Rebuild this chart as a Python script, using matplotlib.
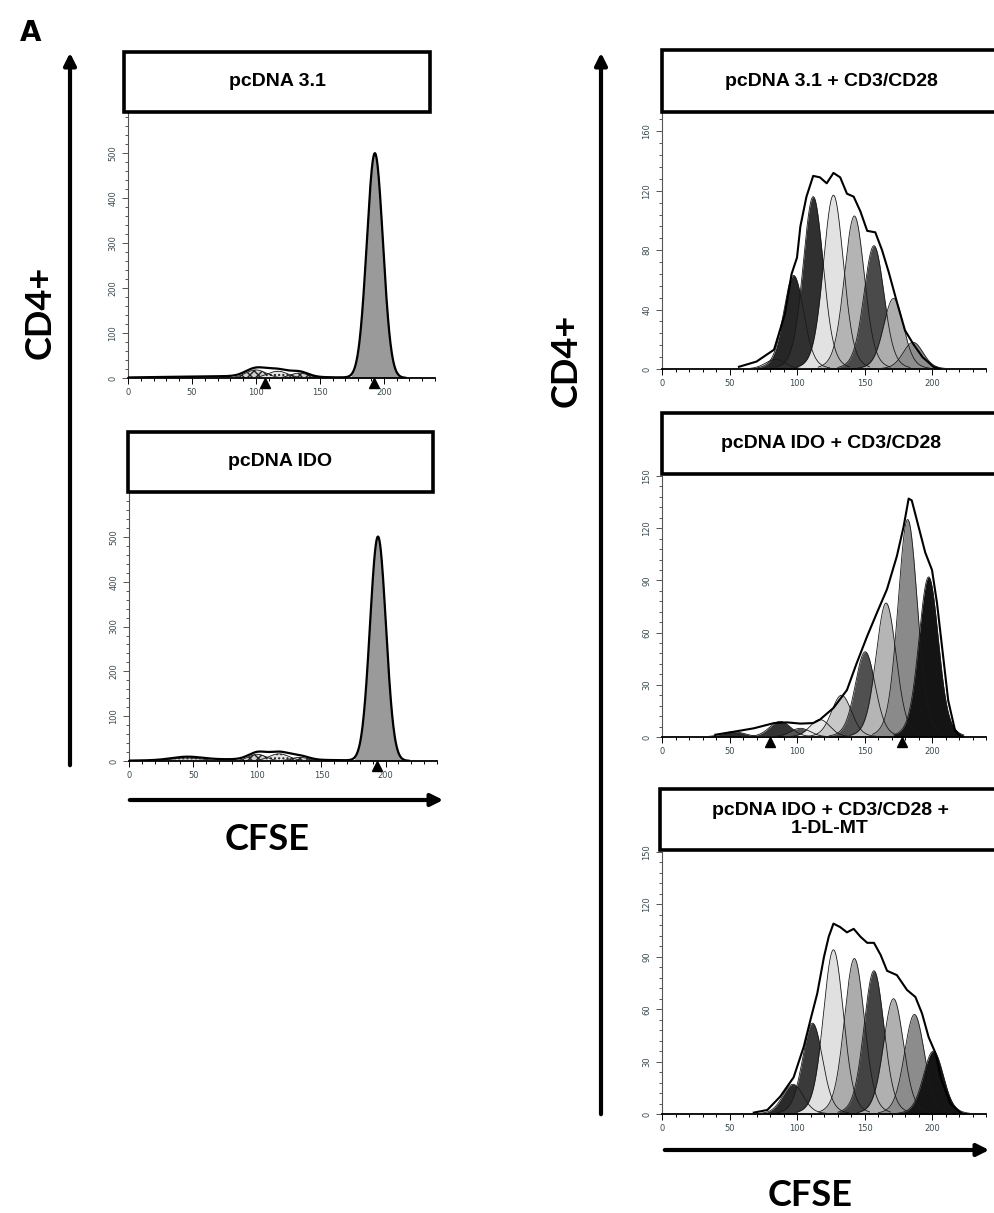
import numpy as np
import matplotlib.pyplot as plt
from matplotlib.patches import Rectangle, FancyArrowPatch
from matplotlib.ticker import MultipleLocator
import matplotlib.transforms as mtransforms

W, H = 994, 1213

titles = ["pcDNA 3.1", "pcDNA IDO", "pcDNA 3.1 + CD3/CD28",
          "pcDNA IDO + CD3/CD28", "pcDNA IDO + CD3/CD28 +\n1-DL-MT"]

# generation peaks: centre (CFSE), height (count), sigma
p1_centers = [100, 117, 134, 193]
p1_heights = [18, 15, 11, 500]
p1_sigmas = [8, 8, 7, 6.3]
p1_debris = [85, 4, 55]          # broad background: centre, height, sigma
p1_marks = [107, 192]

p2_centers = [45, 100, 117, 133, 194]
p2_heights = [7, 15, 16, 8, 500]
p2_sigmas = [12, 7, 8, 7, 6.2]
p2_debris = [95, 4, 55]
p2_marks = [193]

p3_centers = [84, 97.5, 112, 127, 142.5, 157, 171.5, 186]
p3_heights = [6.5, 63, 116, 117, 103, 83, 47.5, 18]
p3_sigmas = [7] * 8
p3_marks = []

p4_centers = [53, 87.5, 102.5, 117, 133, 150.5, 166, 182, 197.5]
p4_heights = [3, 9, 5, 10, 24, 49, 77, 125, 92]
p4_sigmas = [8, 7.5, 7, 7, 7, 7, 7, 6.8, 6.8]
p4_marks = [80, 178]

p5_centers = [97, 111.5, 127, 142.5, 157, 171.5, 187, 201]
p5_heights = [17, 52, 94, 89, 82, 66, 57, 36]
p5_sigmas = [7.2, 7, 7, 7, 7, 7, 7, 7]
p5_marks = []

# fitted envelopes of the stimulated samples
p3_env_x = [57, 70, 83, 91, 96, 100, 102.5, 107, 112, 117, 122, 127, 132, 137,
            142, 147, 152, 158, 163, 168, 174, 180, 186, 193, 201, 206]
p3_env_y = [1.5, 5, 13, 37, 64, 75, 96, 116, 130, 129, 125, 132, 129, 118,
            116, 106, 93, 92, 80, 65, 45, 26, 17, 8, 1.5, 0]
p4_env_x = [39.5, 53, 68, 78, 83, 92.6, 102.5, 112, 117, 127, 137, 144, 152,
            159, 166.7, 174, 179, 182.7, 185, 190, 195, 200, 203.7, 208.6, 212,
            217, 221]
p4_env_y = [1.3, 3, 5, 7, 8, 8.4, 7.7, 8, 10, 16.7, 27, 42, 58, 71, 85, 104,
            121, 137, 136, 121, 106, 96, 77, 44, 21, 4, 0.4]
p5_env_x = [68, 78, 87.6, 97.5, 105, 110, 115, 120, 123.5, 127, 132, 137, 142,
            147, 152, 157, 162, 166.7, 174, 181.5, 187.7, 192.6, 197.5, 202.5,
            207, 213.6, 221]
p5_env_y = [0.8, 2.3, 10, 21, 38.5, 54, 69, 90, 101.5, 109, 107, 104, 106,
            101.5, 98, 98, 91, 82, 79.5, 71, 67, 57.6, 44, 35, 19.5, 6, 0.8]

# fill styles per peak
p1_fills = ["#cfcfcf", "#e6e6e6", "#cfcfcf", "#9a9a9a"]
p1_hatch = ["xxxx", "....", "xxxx", None]
p2_fills = ["#cfcfcf", "#cfcfcf", "#e6e6e6", "#cfcfcf", "#9a9a9a"]
p2_hatch = ["....", "xxxx", "....", "xxxx", None]
p3_fills = ["#b8b8b8", "#262626", "#303030", "#e2e2e2", "#b4b4b4", "#4a4a4a", "#adadad", "#8e8e8e"]
p4_fills = ["#2a2a2a", "#333333", "#555555", "#e8e8e8", "#c8c8c8", "#505050", "#b5b5b5", "#8a8a8a", "#141414"]
p5_fills = ["#2a2a2a", "#3a3a3a", "#e0e0e0", "#acacac", "#434343", "#b0b0b0", "#8c8c8c", "#151515"]

fig = plt.figure(figsize=(W / 100, H / 100), dpi=100)
fig.patch.set_facecolor("white")


def px_axes(left, top, right, bottom):
    return fig.add_axes([left / W, 1 - bottom / H, (right - left) / W, (bottom - top) / H])


def peak(x, c, h, s, tail=0.0):
    # gaussian core, optionally with a wider skirt (modelled generations)
    core = np.exp(-((x - c) ** 2) / (2 * s ** 2))
    skirt = np.exp(-((x - c) ** 2) / (2 * (1.7 * s) ** 2))
    return h * ((1 - tail) * core + tail * skirt)


def draw_panel(ax, centers, heights, sigmas, fills, hatches, debris, marks,
               ymax, ymajor, yminor, env_x=None, env_y=None, tail=0.0):
    x = np.linspace(0, 240, 961)
    total = np.zeros_like(x)
    if debris is not None:
        total += peak(x, *debris)
    curves = []
    for i, (c, h, s) in enumerate(zip(centers, heights, sigmas)):
        y = peak(x, c, h, s, tail)
        total += y
        m = y > 0.012 * h
        curves.append((x[m], y[m]))
        hatch = hatches[i] if hatches else None
        ax.fill_between(x[m], 0, y[m], facecolor=fills[i], edgecolor="#222222",
                        lw=0, hatch=hatch, zorder=2 + i * 0.01)
    for cx, cy in curves:
        ax.plot(cx, cy, color="#1a1a1a", lw=0.6, zorder=3)
    if env_x is None:
        m = total > 0.6
        ax.plot(x[m], total[m], color="black", lw=1.6, zorder=5)
    else:
        ax.plot(env_x, env_y, color="black", lw=1.5, zorder=5)
    tr = mtransforms.offset_copy(ax.transData, fig=fig, y=-5, units="dots")
    for mk in marks:
        ax.plot([mk], [0], marker="^", color="black", ms=6.5, transform=tr,
                clip_on=False, zorder=6)
    ax.set_xlim(0, 240)
    ax.set_ylim(0, ymax)
    ax.xaxis.set_major_locator(MultipleLocator(50))
    ax.xaxis.set_minor_locator(MultipleLocator(10))
    ax.yaxis.set_major_locator(MultipleLocator(ymajor))
    ax.yaxis.set_minor_locator(MultipleLocator(yminor))
    for sp in ["top", "right"]:
        ax.spines[sp].set_visible(False)
    ax.spines["bottom"].set_linewidth(1.3)
    ax.spines["left"].set_linewidth(0.8)
    ax.spines["left"].set_color("#555555")
    ax.tick_params(which="both", direction="out", colors="#555555",
                   labelsize=6, labelcolor="#3c4a50", width=0.7)
    ax.tick_params(which="major", length=4)
    ax.tick_params(which="minor", length=2.5)
    ax.tick_params(axis="x", which="both", color="black")
    for lab in ax.get_yticklabels():
        lab.set_rotation(90)
        lab.set_va("center")
    ax.patch.set_alpha(0)


def title_box(left, top, right, bottom, text):
    fig.add_artist(Rectangle((left / W, 1 - bottom / H), (right - left) / W,
                             (bottom - top) / H, transform=fig.transFigure,
                             facecolor="white", edgecolor="black", lw=2.6,
                             clip_on=False))
    cx = (left + right) / 2
    cy = (top + bottom) / 2
    fig.text(cx / W, 1 - cy / H, text, ha="center", va="center",
             family="Liberation Sans", fontweight="bold", fontsize=14,
             linespacing=1.05)


def arrow(x0, y0, x1, y1):
    fig.add_artist(FancyArrowPatch((x0 / W, 1 - y0 / H), (x1 / W, 1 - y1 / H),
                                   transform=fig.transFigure, arrowstyle="-|>",
                                   mutation_scale=18, lw=3, color="black"))


ax1 = px_axes(128, 113, 435, 378)
draw_panel(ax1, p1_centers, p1_heights, p1_sigmas, p1_fills, p1_hatch, p1_debris,
           p1_marks, 590, 100, 20)
ax2 = px_axes(129, 493, 437, 761)
draw_panel(ax2, p2_centers, p2_heights, p2_sigmas, p2_fills, p2_hatch, p2_debris,
           p2_marks, 598, 100, 20)
ax3 = px_axes(662, 112, 986, 369)
draw_panel(ax3, p3_centers, p3_heights, p3_sigmas, p3_fills, None, None,
           p3_marks, 173, 40, 8, p3_env_x, p3_env_y, tail=0.15)
ax4 = px_axes(662, 476, 986, 737)
draw_panel(ax4, p4_centers, p4_heights, p4_sigmas, p4_fills, None, None,
           p4_marks, 150, 30, 6, p4_env_x, p4_env_y, tail=0.15)
ax5 = px_axes(662, 852, 986, 1114)
draw_panel(ax5, p5_centers, p5_heights, p5_sigmas, p5_fills, None, None,
           p5_marks, 150, 30, 6, p5_env_x, p5_env_y, tail=0.15)

title_box(124, 52, 430, 112, titles[0])
title_box(128, 432, 433, 492, titles[1])
title_box(662, 50, 1000, 112, titles[2])
title_box(662, 413, 1000, 474, titles[3])
title_box(660, 789, 1000, 850, titles[4])

arrow(70, 768, 70, 50)
arrow(601, 1117, 601, 50)
arrow(127, 800, 446, 800)
arrow(662, 1150, 992, 1150)

big = dict(family="Lato", fontweight="bold", fontsize=26)
fig.text(40 / W, 1 - 312 / H, "CD4+", rotation=90, ha="center", va="center", **big)
fig.text(566 / W, 1 - 360 / H, "CD4+", rotation=90, ha="center", va="center", **big)
fig.text(267 / W, 1 - 840 / H, "CFSE", ha="center", va="center", **big)
fig.text(810 / W, 1 - 1195 / H, "CFSE", ha="center", va="center", **big)
fig.text(20 / W, 1 - 33 / H, "A", ha="left", va="center", family="DejaVu Sans",
         fontweight="bold", fontsize=20)

fig.savefig("out.png", dpi=100)
